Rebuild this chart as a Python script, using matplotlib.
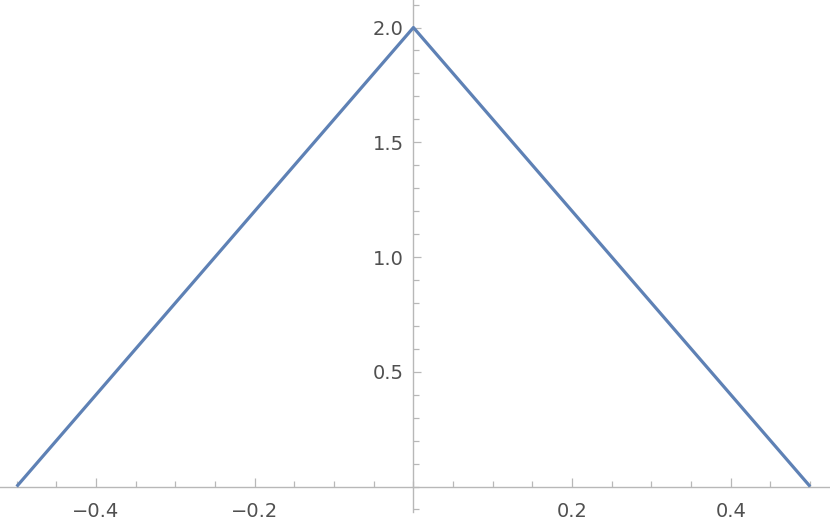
import numpy as np
import matplotlib
matplotlib.use("Agg")
from matplotlib import pyplot as plt
from matplotlib.ticker import MultipleLocator, FixedLocator

# triangle: corner points
x = [-0.5, 0.0, 0.5]
y = [0.0, 2.0, 0.0]

xticks = [-0.4, -0.2, 0.2, 0.4]
yticks = [0.5, 1.0, 1.5, 2.0]

fig = plt.figure(figsize=(8.3, 5.26), dpi=100)
ax = fig.add_axes([0, 0, 1, 1])

ax.plot(x, y, color='#5e81b5', lw=2.3, solid_capstyle='butt', zorder=3)

ax.set_xlim(-0.521, 0.525)
ax.set_ylim(-0.172, 2.12)

axcol = '#b8b8b8'
for s in ['top', 'right']:
    ax.spines[s].set_visible(False)
ax.spines['left'].set_position(('data', 0))
ax.spines['bottom'].set_position(('data', 0))
ax.spines['left'].set_bounds(-0.11, 2.12)
for s in ['left', 'bottom']:
    ax.spines[s].set_color(axcol)
    ax.spines[s].set_linewidth(1.0)

ax.xaxis.set_major_locator(FixedLocator(xticks))
ax.xaxis.set_minor_locator(MultipleLocator(0.05))
ax.yaxis.set_major_locator(FixedLocator(yticks))
ax.yaxis.set_minor_locator(FixedLocator(np.round(np.arange(-0.1, 2.11, 0.1), 2)))
ax.set_xticklabels([f'{v:.1f}'.replace('-', '\u2212') for v in xticks])
ax.set_yticklabels([f'{v:.1f}' for v in yticks])

ax.tick_params(axis='both', which='both', direction='in', color=axcol, width=0.9,
               labelcolor='#505050', labelsize=14)
ax.tick_params(axis='x', which='major', length=6.5, pad=11)
ax.tick_params(axis='x', which='minor', length=4)
ax.tick_params(axis='y', which='major', length=6, pad=7)
ax.tick_params(axis='y', which='minor', length=4)

fig.savefig("out.png", dpi=100)
